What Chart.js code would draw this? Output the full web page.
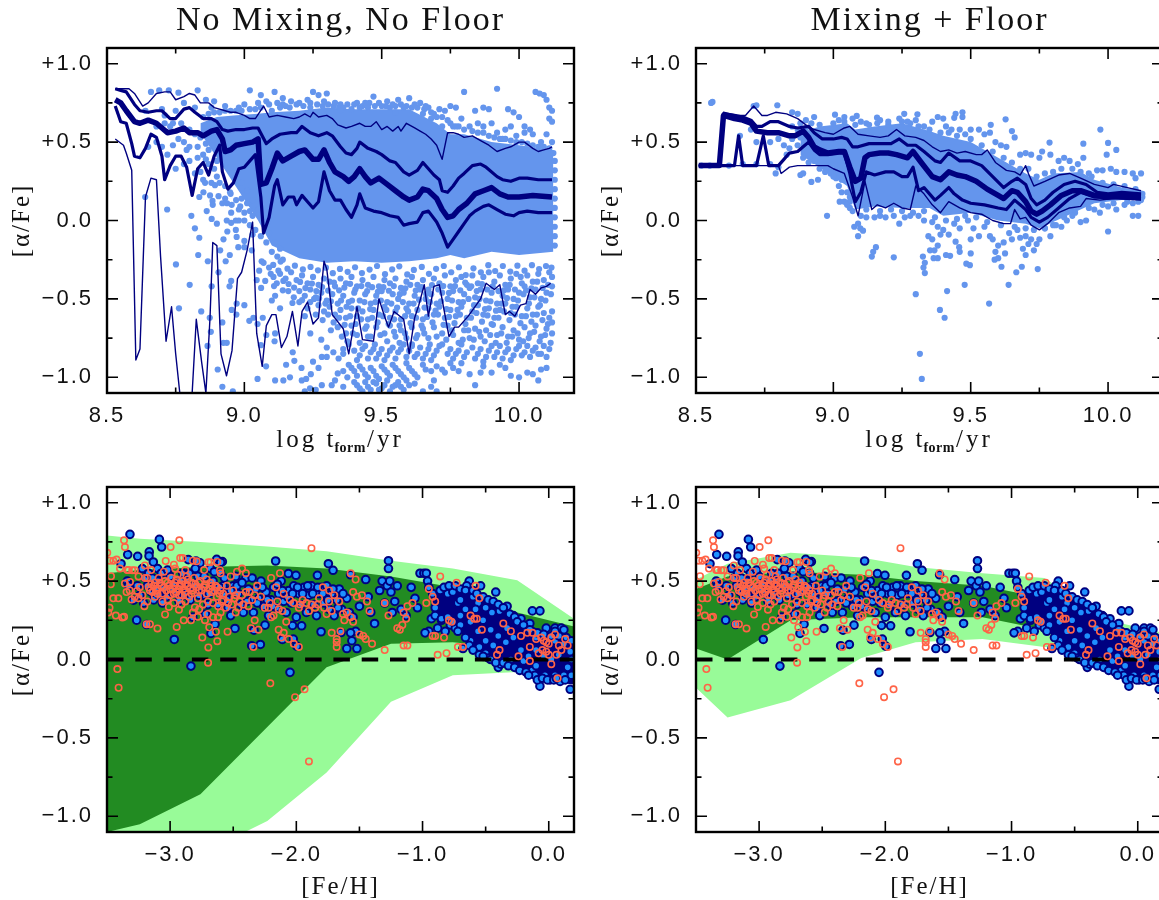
<!DOCTYPE html>
<html><head><meta charset="utf-8">
<script src="https://cdn.jsdelivr.net/npm/chart.js@4"></script>
<style>
html,body{margin:0;padding:0;background:#fff;width:1159px;height:900px;overflow:hidden}
canvas{position:absolute}
#wrap{position:absolute;left:0;top:0;width:1159px;height:900px;overflow:hidden}
</style></head><body><div id="wrap">
<canvas id="tl" width="590" height="461" style="left:0;top:0"></canvas>
<canvas id="tr" width="590" height="461" style="left:589px;top:0"></canvas>
<canvas id="bl" width="590" height="461" style="left:0;top:439px"></canvas>
<canvas id="br" width="590" height="461" style="left:589px;top:439px"></canvas>
</div>
<script>
const titles = ["No Mixing, No Floor", "Mixing + Floor"];
const yTicks = [-1, -0.5, 0, 0.5, 1];
const yMinor = [-0.75, -0.25, 0.25, 0.75];
const topXTicks = [8.5, 9, 9.5, 10];
const topXMinor = [8.75, 9.25, 9.75];
const botXTicks = [-3, -2, -1, 0];
const botXMid = [-2.5, -1.5, -0.5];

// ---- top-left: running percentile curves
const tlHi2 = [[8.53,.84],[8.55,.84],[8.58,.84],[8.6,.81],[8.63,.73],[8.65,.75],[8.68,.81],[8.71,.82],[8.73,.82],[8.75,.77],[8.78,.79],[8.8,.81],[8.82,.8],[8.84,.75],[8.87,.75],[8.89,.72],[8.91,.71],[8.93,.7],[8.95,.69],[8.97,.69],[9,.67],[9.02,.65],[9.04,.65],[9.07,.73],[9.09,.66],[9.12,.67],[9.15,.66],[9.18,.65],[9.2,.66],[9.22,.68],[9.24,.66],[9.25,.69],[9.27,.66],[9.3,.67],[9.32,.65],[9.34,.61],[9.37,.59],[9.39,.6],[9.42,.62],[9.44,.6],[9.46,.6],[9.48,.63],[9.5,.58],[9.52,.6],[9.54,.57],[9.56,.6],[9.57,.57],[9.59,.62],[9.62,.59],[9.64,.57],[9.66,.55],[9.68,.52],[9.7,.48],[9.72,.39],[9.74,.56],[9.76,.56],[9.78,.55],[9.8,.53],[9.83,.54],[9.86,.51],[9.89,.48],[9.92,.44],[9.95,.46],[9.97,.47],[10,.5],[10.02,.5],[10.05,.46],[10.07,.44],[10.09,.45],[10.11,.46],[10.12,.47]];
const tlHi1 = [[8.53,.84],[8.55,.83],[8.57,.82],[8.6,.74],[8.62,.7],[8.65,.69],[8.68,.7],[8.7,.7],[8.73,.65],[8.75,.65],[8.78,.71],[8.8,.72],[8.82,.69],[8.85,.65],[8.88,.65],[8.9,.63],[8.92,.58],[8.94,.57],[8.97,.58],[9,.58],[9.03,.59],[9.05,.59],[9.08,.49],[9.1,.52],[9.13,.55],[9.17,.56],[9.19,.56],[9.21,.6],[9.24,.56],[9.27,.54],[9.3,.56],[9.32,.54],[9.35,.47],[9.37,.43],[9.39,.42],[9.41,.46],[9.42,.5],[9.45,.46],[9.48,.44],[9.5,.42],[9.53,.38],[9.55,.37],[9.58,.31],[9.6,.29],[9.63,.32],[9.65,.37],[9.67,.33],[9.69,.29],[9.71,.26],[9.72,.19],[9.74,.18],[9.76,.22],[9.78,.27],[9.8,.3],[9.83,.35],[9.86,.36],[9.88,.34],[9.92,.28],[9.94,.26],[9.97,.25],[10,.27],[10.03,.27],[10.07,.26],[10.12,.26]];
const tlMed = [[8.53,.77],[8.55,.75],[8.57,.7],[8.6,.63],[8.62,.62],[8.65,.64],[8.68,.62],[8.7,.59],[8.72,.56],[8.75,.57],[8.78,.59],[8.8,.56],[8.83,.56],[8.85,.54],[8.88,.57],[8.9,.58],[8.92,.52],[8.93,.44],[8.95,.45],[8.97,.48],[9,.49],[9.03,.5],[9.05,.52],[9.06,.23],[9.08,.24],[9.1,.33],[9.12,.43],[9.14,.38],[9.17,.41],[9.2,.44],[9.22,.45],[9.25,.39],[9.27,.39],[9.29,.45],[9.31,.37],[9.33,.31],[9.36,.28],[9.38,.25],[9.4,.28],[9.42,.33],[9.44,.28],[9.46,.24],[9.49,.27],[9.52,.23],[9.55,.19],[9.58,.15],[9.6,.13],[9.63,.15],[9.65,.2],[9.67,.19],[9.7,.14],[9.72,.07],[9.74,.02],[9.76,.03],[9.78,.07],[9.81,.11],[9.84,.17],[9.87,.19],[9.9,.21],[9.93,.17],[9.96,.15],[10,.15],[10.05,.16],[10.12,.15]];
const tlLo1 = [[8.53,.73],[8.55,.63],[8.57,.62],[8.59,.49],[8.6,.41],[8.62,.4],[8.64,.46],[8.66,.55],[8.68,.53],[8.7,.41],[8.71,.26],[8.73,.35],[8.75,.41],[8.77,.41],[8.79,.34],[8.8,.25],[8.81,.16],[8.83,.33],[8.85,.37],[8.87,.29],[8.89,.41],[8.91,.48],[8.92,.31],[8.94,.2],[8.96,.24],[8.98,.33],[9,.34],[9.02,.38],[9.04,.42],[9.06,.15],[9.07,-.08],[9.09,.02],[9.11,.22],[9.12,.26],[9.14,.1],[9.16,.15],[9.18,.15],[9.19,.1],[9.21,.16],[9.23,.12],[9.25,.08],[9.27,.12],[9.29,.31],[9.31,.19],[9.33,.13],[9.35,.13],[9.37,.07],[9.39,.02],[9.41,.1],[9.42,.17],[9.44,.08],[9.47,.06],[9.5,.05],[9.53,.03],[9.56,.02],[9.58,-.03],[9.6,-.02],[9.63,-.01],[9.65,.05],[9.67,.06],[9.7,-.01],[9.72,-.08],[9.74,-.17],[9.76,-.12],[9.78,-.07],[9.8,-.02],[9.82,.03],[9.84,.06],[9.87,.09],[9.89,.1],[9.92,.07],[9.95,.04],[9.98,.03],[10,.05],[10.03,.06],[10.07,.05],[10.12,.05]];
const tlLo2 = [[8.53,.52],[8.56,.48],[8.57,.43],[8.59,.32],[8.605,-.89],[8.62,-.82],[8.64,.15],[8.66,.27],[8.68,.26],[8.695,-.23],[8.715,-.77],[8.735,-.55],[8.75,-.85],[8.765,-1.1],[8.79,-1.45],[8.81,-1.1],[8.825,-.63],[8.845,-.91],[8.86,-1.1],[8.875,-.62],[8.885,-.14],[8.9,-.16],[8.915,-.85],[8.935,-.99],[8.955,-.83],[8.975,-.37],[8.99,-.33],[9.01,-.19],[9.03,-.01],[9.045,-.72],[9.065,-.93],[9.08,-.67],[9.1,-.6],[9.115,-.6],[9.135,-.81],[9.155,-.74],[9.175,-.58],[9.195,-.8],[9.21,-.58],[9.23,-.52],[9.25,-.66],[9.27,-.62],[9.29,-.26],[9.3,-.31],[9.32,-.6],[9.36,-.69],[9.38,-.85],[9.41,-.55],[9.43,-.76],[9.47,-.77],[9.49,-.5],[9.51,-.61],[9.525,-.68],[9.545,-.58],[9.58,-.63],[9.6,-.85],[9.62,-.62],[9.635,-.54],[9.655,-.41],[9.67,-.61],[9.69,-.42],[9.71,-.41],[9.745,-.74],[9.765,-.68],[9.78,-.68],[9.815,-.61],[9.86,-.5],[9.88,-.4],[9.91,-.44],[9.93,-.41],[9.95,-.6],[9.965,-.58],[9.985,-.61],[10.005,-.54],[10.025,-.53],[10.04,-.44],[10.06,-.47],[10.08,-.43],[10.1,-.42],[10.115,-.4]];

// solid core of the top-left cloud
const tlCoreX = [8.84,8.9,8.96,9.05,9.1,9.2,9.3,9.4,9.5,9.6,9.7,9.75,9.8,9.9,10,10.125];
const tlCoreHi = [.62,.66,.67,.68,.69,.7,.72,.71,.71,.71,.62,.55,.55,.5,.48,.45];
const tlCoreLo = [.56,.4,.24,.0,-.16,-.24,-.27,-.26,-.27,-.26,-.24,-.22,-.24,-.2,-.22,-.2];

// individual stars around the top-left core
const tlDots = [[8.66,.82],[8.69,.83],[8.725,.83],[8.76,.815],[8.83,.83],[8.86,.77],[8.89,.76],[9.02,.83],[9.06,.8],[9.11,.82],[9.17,.76],[8.78,.75],[8.7,.71],[8.75,.7],[8.82,.72],[8.88,.72],[8.93,.73],[8.98,.72],[9.0,.74],[9.05,.75],[9.08,.76],[9.14,.78],[9.15,.73],[9.2,.75],[9.23,.77],[9.25,.82],[9.27,.8],[9.29,.76],[9.24,.72],[9.3,.81],[9.33,.75],[9.35,.74],[9.36,.72],[9.4,.74],[9.42,.72],[9.44,.75],[9.47,.79],[9.45,.72],[9.5,.73],[9.52,.76],[9.54,.74],[9.56,.77],[9.58,.72],[9.6,.78],[9.62,.74],[9.64,.75],[9.66,.73],[9.67,.72],[9.69,.68],[9.71,.71],[9.73,.7],[9.75,.73],[9.77,.72],[9.8,.82],[9.84,.7],[9.87,.72],[9.89,.71],[9.92,.84],[9.96,.71],[9.98,.69],[10.0,.66],[10.02,.6],[10.04,.58],[10.06,.82],[10.075,.81],[10.09,.8],[10.1,.77],[10.11,.72],[10.12,.7],[10.11,.65],[10.12,.63],[9.75,.62],[9.77,.6],[9.79,.65],[9.82,.6],[9.85,.62],[9.87,.6],[9.9,.62],[9.92,.56],[9.95,.58],[9.97,.6],[10.02,.56],[10.05,.55],[10.08,.5],[10.1,.55],[10.12,.5],[9.99,.54],[9.94,.52],[9.72,.6],[9.68,.65],[9.65,.68],[9.55,.69],[9.35,.7],[9.13,.72],[9.1,.7],
[8.64,.7],[8.68,.6],[8.71,.62],[8.73,.6],[8.76,.52],[8.74,.48],[8.72,.42],[8.7,.47],[8.68,.5],[8.65,.47],[8.78,.5],[8.8,.47],[8.79,.45],[8.83,.47],[8.85,.42],[8.87,.45],[8.86,.39],[8.83,.4],[8.8,.38],[8.75,.33],[8.78,.36],[8.84,.31],[8.82,.3],[8.87,.36],[8.89,.33],[8.9,.28],[8.88,.24],[8.85,.26],[8.91,.24],[8.93,.22],[8.95,.17],[8.93,.14],[8.92,.11],[8.97,.13],[8.99,.14],[9.01,.11],[9.02,.06],[9.03,.03],[9.0,.05],[8.98,.0],
[8.639,.15],[8.719,.07],[8.807,.03],[8.82,-.05],[8.836,-.11],[8.751,-.28],[8.801,-.41],[8.762,-.56],[8.832,-.22],[8.867,-.26],[8.843,-.58],[8.874,-.62],[8.878,-.71],[8.866,-.8],[8.903,-.95],[8.92,-1.06],[8.958,-1.09],[8.881,-.42],[8.906,-.33],[8.912,-.19],[8.932,-.26],[8.947,-.22],[8.924,-.12],[8.938,-.07],[8.9,-.02],[8.881,.01],[8.863,.06],[8.836,.15],[8.851,.18],[8.875,.16],[8.884,.125],[8.885,.1],[8.906,.155],[8.857,.24],[8.893,.225],[8.948,.18],[8.937,.11],[8.954,.1],[8.985,.09],[8.952,.05],[8.936,0],[8.952,-.015],[8.969,0],[9,.0],[8.969,-.06],[8.972,-.105],[9,-.13],[8.978,-.17],[9,-.17],[9.027,-.19],[9.054,-.32],[9.063,-.26],[9.061,-.43],[9.045,-.38],[9.076,-.385],[9.096,-.34],[9.106,-.36],[9.124,-.32],[9.118,-.4],[9.14,-.445],[9.112,-.48],[9.1,-.51],[9.13,-.56],[9.2,-.52],[9.23,-.56],[9.254,-.5],[8.946,-.42],[8.952,-.385],[8.954,-.57],[8.972,-.53],[9,-.54],[8.971,-.6],[9.018,-.64],[9.033,-.62],[9.067,-.62],[9.048,-.66],[8.92,-.65],[8.924,-.78],[8.936,-.78],[9.06,-.795],[9.08,-.73],[9.079,-.93],[9.048,-1.01],[9.112,-1.02],[9.142,-1.02],[9.112,-.72],[9.11,-.77],[9.152,-.92],[9.176,-.84],[9.182,-.895],[9.208,-.94],[9.166,-1],[9.209,-1.02],[9.225,-1.01],[9.242,-.98],[9.239,-1.07],[9.27,-.94],[9.282,-.87],[9.25,-.9],[9.3,-.87],[9.324,-.84],[9.343,-.88],[9.36,-.85],[9.282,-1.05],[9.318,-1.05],[9.34,-.975],[9.36,-.96],[9.375,-1.0]];
const tlDotsLow = [[9.09,-.3],[9.13,-.34],[9.15,-.37],[9.17,-.33],[9.19,-.38],[9.21,-.35],[9.23,-.4],[9.25,-.36],[9.27,-.41],[9.29,-.37],[9.31,-.39],[9.33,-.42],[9.35,-.37],[9.37,-.4],[9.39,-.36],[9.41,-.42],[9.43,-.38],[9.45,-.41],[9.47,-.36],[9.49,-.42],[9.51,-.38],[9.53,-.4],[9.55,-.37],[9.57,-.43],[9.59,-.39],[9.61,-.36],[9.63,-.41],[9.65,-.38],[9.67,-.44],[9.69,-.37],[9.71,-.4],[9.73,-.35],[9.75,-.42],[9.77,-.38],[9.79,-.36],[9.81,-.41],[9.83,-.35],[9.85,-.4],[9.87,-.36],[9.89,-.33],[9.91,-.39],[9.93,-.35],[9.95,-.41],[9.97,-.37],[9.99,-.34],[10.01,-.4],[10.03,-.35],[10.05,-.39],[10.07,-.34],[10.09,-.38],[10.11,-.33],[10.12,-.36],
[9.16,-.45],[9.18,-.49],[9.2,-.45],[9.22,-.48],[9.24,-.44],[9.26,-.49],[9.28,-.46],[9.3,-.51],[9.32,-.47],[9.34,-.53],[9.36,-.48],[9.38,-.52],[9.4,-.46],[9.42,-.51],[9.44,-.47],[9.46,-.53],[9.48,-.48],[9.5,-.45],[9.52,-.52],[9.54,-.47],[9.56,-.5],[9.58,-.46],[9.6,-.53],[9.62,-.48],[9.64,-.44],[9.66,-.5],[9.68,-.47],[9.7,-.53],[9.72,-.46],[9.74,-.5],[9.76,-.45],[9.78,-.52],[9.8,-.47],[9.82,-.43],[9.84,-.49],[9.86,-.44],[9.88,-.51],[9.9,-.46],[9.92,-.53],[9.94,-.48],[9.96,-.44],[9.98,-.5],[10,-.46],[10.02,-.42],[10.04,-.49],[10.06,-.44],[10.08,-.5],[10.1,-.46],[10.12,-.42],
[9.27,-.54],[9.29,-.58],[9.31,-.55],[9.33,-.6],[9.35,-.57],[9.37,-.62],[9.39,-.56],[9.41,-.61],[9.43,-.58],[9.45,-.63],[9.47,-.57],[9.49,-.6],[9.51,-.55],[9.53,-.62],[9.55,-.58],[9.57,-.63],[9.59,-.56],[9.61,-.61],[9.63,-.57],[9.65,-.63],[9.67,-.56],[9.69,-.6],[9.71,-.55],[9.73,-.62],[9.75,-.57],[9.77,-.61],[9.79,-.55],[9.81,-.62],[9.83,-.58],[9.85,-.54],[9.87,-.6],[9.89,-.56],[9.91,-.62],[9.93,-.57],[9.95,-.53],[9.97,-.59],[9.99,-.55],[10.01,-.61],[10.03,-.56],[10.05,-.6],[10.07,-.55],[10.09,-.59],[10.11,-.62],[10.12,-.58],
[9.34,-.68],[9.37,-.72],[9.39,-.67],[9.41,-.73],[9.44,-.69],[9.46,-.74],[9.48,-.68],[9.51,-.72],[9.53,-.67],[9.55,-.74],[9.57,-.7],[9.59,-.75],[9.61,-.68],[9.63,-.73],[9.65,-.69],[9.67,-.75],[9.69,-.68],[9.72,-.72],[9.74,-.67],[9.76,-.73],[9.78,-.78],[9.8,-.7],[9.82,-.75],[9.84,-.69],[9.86,-.74],[9.88,-.7],[9.9,-.66],[9.92,-.73],[9.94,-.68],[9.96,-.74],[9.98,-.7],[10,-.76],[10.02,-.68],[10.04,-.72],[10.06,-.67],[10.08,-.74],[10.1,-.69],[10.12,-.65],[10.12,-.72],
[9.38,-.79],[9.4,-.83],[9.42,-.86],[9.44,-.8],[9.46,-.84],[9.48,-.88],[9.5,-.82],[9.52,-.86],[9.54,-.81],[9.56,-.84],[9.58,-.79],[9.6,-.83],[9.62,-.87],[9.64,-.81],[9.66,-.85],[9.68,-.89],[9.7,-.83],[9.72,-.79],[9.74,-.85],[9.76,-.88],[9.78,-.83],[9.8,-.87],[9.83,-.81],[9.85,-.85],[9.87,-.9],[9.89,-.83],[9.91,-.87],[9.93,-.8],[9.95,-.84],[9.97,-.89],[9.99,-.82],[10.01,-.86],[10.03,-.8],[10.05,-.83],[10.07,-.85],[10.09,-.8],[10.11,-.82],
[9.38,-.92],[9.4,-.96],[9.42,-.93],[9.44,-.98],[9.46,-.94],[9.48,-.99],[9.5,-.93],[9.52,-.97],[9.54,-.92],[9.56,-.96],[9.58,-1.0],[9.6,-.94],[9.62,-.98],[9.65,-.92],[9.68,-.96],[9.7,-.93],[9.73,-.97],[9.76,-.94],[9.79,-.91],[9.82,-.98],[9.84,-1.05],[9.87,-.93],[9.9,-.97],[9.93,-.92],[9.97,-.99],[10,-1.0],[10.03,-.97],[10.07,-1.02],[10.1,-.94],
[9.4,-1.03],[9.42,-1.07],[9.44,-1.03],[9.46,-1.08],[9.48,-1.04],[9.5,-1.07],[9.52,-1.02],[9.54,-1.06],[9.56,-1.03],[9.58,-1.08],[9.6,-1.05],[9.65,-1.09],[9.7,-1.09],[9.33,-1.02],[9.36,-1.06],[9.26,-1.08],[9.22,-1.09]];
const tlDotsFill = [[9.07,-.27],[9.105,-.283],[9.132,-.262],[9.157,-.307],[9.184,-.288],[9.213,-.312],[9.241,-.296],[9.268,-.318],[9.297,-.301],[9.322,-.336],[9.348,-.309],[9.376,-.327],[9.403,-.298],[9.428,-.335],[9.456,-.313],[9.483,-.29],[9.512,-.342],[9.538,-.312],[9.564,-.292],[9.593,-.344],[9.617,-.315],[9.646,-.296],[9.672,-.34],[9.698,-.308],[9.726,-.29],[9.753,-.33],[9.781,-.298],[9.806,-.348],[9.834,-.305],[9.861,-.33],[9.888,-.285],[9.913,-.322],[9.941,-.29],[9.968,-.326],[9.994,-.288],[10.02,-.32],[10.047,-.285],[10.073,-.31],[10.098,-.29],[10.118,-.3],
[9.108,-.418],[9.142,-.385],[9.161,-.405],[9.181,-.428],[9.203,-.392],[9.222,-.431],[9.246,-.402],[9.262,-.45],[9.283,-.424],[9.305,-.447],[9.326,-.396],[9.345,-.445],[9.364,-.428],[9.385,-.404],[9.404,-.44],[9.426,-.418],[9.447,-.45],[9.465,-.425],[9.486,-.455],[9.506,-.425],[9.526,-.448],[9.544,-.418],[9.566,-.47],[9.586,-.432],[9.604,-.41],[9.624,-.447],[9.645,-.425],[9.662,-.468],[9.683,-.412],[9.706,-.44],[9.724,-.418],[9.745,-.462],[9.767,-.418],[9.786,-.445],[9.804,-.396],[9.826,-.42],[9.846,-.45],[9.865,-.405],[9.884,-.44],[9.904,-.42],[9.925,-.45],[9.945,-.445],[9.966,-.41],[9.985,-.44],[10.006,-.36],[10.026,-.445],[10.045,-.432],[10.066,-.39],[10.086,-.43],[10.106,-.41],
[9.175,-.526],[9.21,-.508],[9.24,-.52],[9.272,-.497],[9.295,-.53],[9.315,-.515],[9.352,-.51],[9.372,-.55],[9.392,-.51],[9.414,-.56],[9.437,-.52],[9.458,-.565],[9.477,-.52],[9.497,-.51],[9.517,-.57],[9.535,-.53],[9.556,-.555],[9.577,-.52],[9.596,-.58],[9.616,-.53],[9.636,-.505],[9.656,-.555],[9.676,-.52],[9.696,-.575],[9.716,-.515],[9.736,-.565],[9.756,-.51],[9.776,-.57],[9.796,-.52],[9.816,-.5],[9.836,-.54],[9.856,-.5],[9.876,-.565],[9.896,-.515],[9.916,-.575],[9.936,-.53],[9.956,-.495],[9.976,-.55],[9.996,-.51],[10.016,-.47],[10.036,-.53],[10.056,-.49],[10.076,-.54],[10.096,-.51],[10.116,-.47],
[9.22,-.61],[9.26,-.6],[9.285,-.635],[9.305,-.6],[9.325,-.65],[9.345,-.62],[9.365,-.665],[9.385,-.61],[9.405,-.66],[9.425,-.63],[9.445,-.675],[9.465,-.62],[9.485,-.65],[9.505,-.61],[9.525,-.66],[9.545,-.63],[9.565,-.67],[9.585,-.61],[9.605,-.655],[9.625,-.62],[9.645,-.67],[9.665,-.615],[9.685,-.65],[9.705,-.6],[9.725,-.665],[9.745,-.615],[9.765,-.655],[9.785,-.6],[9.805,-.66],[9.825,-.62],[9.845,-.59],[9.865,-.645],[9.885,-.605],[9.905,-.665],[9.925,-.62],[9.945,-.58],[9.965,-.635],[9.985,-.6],[10.005,-.655],[10.025,-.61],[10.045,-.645],[10.065,-.6],[10.085,-.635],[10.105,-.66],
[9.24,-.72],[9.28,-.76],[9.315,-.7],[9.355,-.74],[9.375,-.77],[9.395,-.72],[9.42,-.78],[9.45,-.74],[9.475,-.79],[9.495,-.73],[9.52,-.77],[9.545,-.71],[9.565,-.78],[9.585,-.72],[9.61,-.79],[9.625,-.75],[9.655,-.72],[9.675,-.79],[9.7,-.74],[9.735,-.76],[9.755,-.7],[9.795,-.76],[9.815,-.7],[9.835,-.76],[9.855,-.71],[9.875,-.77],[9.895,-.73],[9.915,-.78],[9.935,-.72],[9.955,-.78],[9.975,-.74],[9.995,-.72],[10.015,-.77],[10.035,-.75],[10.055,-.71],[10.075,-.77],[10.095,-.73],[10.115,-.78],
[9.3,-.81],[9.36,-.82],[9.41,-.89],[9.43,-.82],[9.45,-.88],[9.47,-.82],[9.49,-.85],[9.51,-.89],[9.53,-.83],[9.55,-.88],[9.57,-.82],[9.59,-.87],[9.61,-.8],[9.63,-.85],[9.65,-.88],[9.67,-.82],[9.69,-.86],[9.71,-.8],[9.75,-.82],[9.77,-.85],[9.79,-.79],[9.81,-.84],[9.84,-.88],[9.86,-.82],[9.88,-.87],[9.9,-.8],[9.92,-.84],[9.94,-.88],[9.96,-.82],[9.98,-.86],[10,-.8],[10.02,-.84],[10.04,-.87],[10.06,-.81],[10.08,-.85],[10.1,-.87],
[9.39,-.94],[9.41,-.99],[9.43,-.95],[9.45,-1.0],[9.47,-.96],[9.49,-1.01],[9.51,-.95],[9.53,-.99],[9.55,-.94],[9.57,-.98],[9.59,-.91],[9.61,-.96],[9.63,-1.0],[9.66,-.95],[9.69,-1.02],[9.72,-.95],[9.75,-.91],[9.78,-.96],[9.86,-.97],[9.95,-.94],[10.08,-.95],[10.05,-.98],
[9.41,-1.05],[9.43,-1.09],[9.45,-1.06],[9.47,-1.03],[9.49,-1.08],[9.51,-1.05],[9.53,-1.09],[9.55,-1.05],[9.57,-1.06],[9.59,-1.02],[9.62,-1.04],[9.68,-1.06]];
const tlDotsEdge = [[9.06,.72],[9.09,.74],[9.12,.75],[9.14,.74],[9.165,.72],[9.19,.74],[9.215,.73],[9.24,.75],[9.265,.74],[9.285,.73],[9.305,.74],[9.325,.73],[9.345,.72],[9.375,.74],[9.39,.71],[9.41,.75],[9.43,.73],[9.455,.75],[9.475,.73],[9.49,.75],[9.515,.73],[9.53,.72],[9.55,.73],[9.57,.74],[9.59,.73],[9.61,.72],[9.63,.72],[9.655,.71],[9.68,.69],[9.7,.66],[9.72,.66],[9.74,.64],[9.76,.6],[9.78,.6],[9.8,.58],[9.83,.57],[9.85,.56],[9.87,.56],[9.89,.54],[9.91,.53],[9.93,.52],[9.95,.52],[9.97,.51],[9.99,.5],[10.01,.5],[10.03,.49],[10.05,.48],[10.07,.47],[10.09,.47],[10.11,.46],[10.125,.43],[10.13,.38],[10.13,.32],[10.13,.26],[10.13,.2],[10.13,.14],[10.13,.08],[10.13,.02],[10.13,-.04],[10.13,-.1],[10.13,-.16],[8.85,.66],[8.87,.68],[8.89,.69],[8.91,.69],[8.93,.7],[8.95,.7],[8.97,.7],[8.99,.7],[9.02,.71],[9.04,.71],
[8.87,.53],[8.89,.48],[8.91,.44],[8.93,.4],[8.95,.34],[8.97,.29],[8.99,.24],[9.01,.19],[9.03,.13],[9.05,.07],[9.07,-.01],[9.09,-.08],[9.11,-.14],[9.13,-.18],[9.04,-.06],[9.06,-.1],[9.08,-.14],[9.1,-.2],[9.12,-.23],[9.14,-.25],[9.03,-.09],[9.02,-.03],[8.98,.07],[8.9,.38],[8.86,.49],[8.84,.53],[8.82,.55],[8.8,.58],[8.77,.62],[8.74,.62],[8.71,.67]];

// ---- top-right curves
const trHi2 = [[8.51,.35],[8.585,.35],[8.6,.69],[8.65,.67],[8.68,.67],[8.71,.73],[8.74,.67],[8.76,.67],[8.79,.69],[8.83,.68],[8.87,.65],[8.9,.61],[8.93,.58],[8.97,.56],[9,.55],[9.04,.59],[9.06,.6],[9.09,.55],[9.13,.54],[9.17,.53],[9.2,.54],[9.23,.58],[9.26,.54],[9.3,.53],[9.33,.51],[9.36,.47],[9.39,.44],[9.42,.45],[9.45,.43],[9.48,.44],[9.52,.42],[9.54,.42],[9.56,.45],[9.59,.37],[9.63,.32],[9.66,.31],[9.68,.29],[9.7,.35],[9.71,.3],[9.73,.22],[9.77,.25],[9.82,.29],[9.86,.3],[9.9,.27],[9.95,.23],[10,.21],[10.02,.23],[10.07,.21],[10.12,.19]];
const trHi1 = [[8.51,.35],[8.585,.35],[8.6,.68],[8.64,.67],[8.67,.66],[8.7,.64],[8.72,.6],[8.74,.6],[8.77,.63],[8.8,.63],[8.84,.6],[8.87,.59],[8.91,.6],[8.93,.56],[8.96,.52],[9,.52],[9.03,.53],[9.05,.52],[9.07,.47],[9.09,.47],[9.13,.49],[9.17,.49],[9.21,.49],[9.24,.52],[9.27,.48],[9.3,.48],[9.33,.44],[9.37,.38],[9.39,.37],[9.42,.43],[9.46,.38],[9.5,.38],[9.54,.35],[9.58,.28],[9.62,.21],[9.65,.25],[9.67,.27],[9.7,.23],[9.72,.14],[9.74,.1],[9.77,.13],[9.8,.18],[9.84,.23],[9.88,.25],[9.92,.23],[9.96,.18],[10,.17],[10.05,.18],[10.12,.17]];
const trMed = [[8.51,.35],[8.585,.35],[8.6,.67],[8.64,.65],[8.67,.64],[8.7,.62],[8.72,.57],[8.76,.56],[8.8,.56],[8.84,.54],[8.86,.54],[8.89,.57],[8.91,.53],[8.93,.47],[8.95,.45],[8.98,.43],[9.02,.44],[9.04,.44],[9.06,.34],[9.08,.25],[9.1,.27],[9.115,.4],[9.13,.42],[9.17,.43],[9.2,.43],[9.23,.42],[9.27,.4],[9.29,.44],[9.32,.37],[9.36,.28],[9.39,.26],[9.42,.31],[9.45,.29],[9.48,.28],[9.52,.25],[9.56,.2],[9.6,.16],[9.62,.14],[9.65,.19],[9.67,.18],[9.7,.12],[9.72,.06],[9.74,.04],[9.76,.06],[9.79,.1],[9.83,.16],[9.87,.19],[9.9,.19],[9.95,.16],[10,.15],[10.05,.16],[10.12,.155]];
const trLo1 = [[8.51,.35],[8.64,.35],[8.655,.54],[8.67,.35],[8.72,.35],[8.745,.54],[8.765,.35],[8.8,.35],[8.82,.39],[8.84,.43],[8.87,.44],[8.89,.47],[8.91,.5],[8.93,.45],[8.95,.42],[8.98,.42],[9.02,.43],[9.04,.43],[9.06,.3],[9.08,.12],[9.1,.18],[9.12,.31],[9.15,.29],[9.19,.31],[9.22,.31],[9.25,.28],[9.27,.28],[9.29,.34],[9.31,.19],[9.33,.21],[9.35,.17],[9.37,.13],[9.39,.16],[9.42,.21],[9.44,.17],[9.47,.13],[9.5,.11],[9.55,.1],[9.6,.08],[9.63,.07],[9.66,.13],[9.68,.1],[9.7,.07],[9.72,.02],[9.75,-.01],[9.78,.02],[9.82,.08],[9.86,.14],[9.9,.18],[9.95,.15],[10.12,.14]];
const trLo2 = [[8.51,.35],[8.8,.35],[8.81,.3],[8.84,.34],[8.87,.35],[8.95,.35],[8.98,.35],[9,.33],[9.04,.3],[9.07,.15],[9.09,.03],[9.115,.25],[9.14,.07],[9.16,.1],[9.19,.08],[9.22,.11],[9.25,.08],[9.28,.07],[9.3,.22],[9.33,.17],[9.36,.1],[9.39,.05],[9.42,.12],[9.46,.08],[9.5,.05],[9.54,.04],[9.58,0],[9.62,-.02],[9.645,-.02],[9.66,.07],[9.68,.01],[9.7,.02],[9.72,-.03],[9.75,-.06],[9.78,-.02],[9.82,.05],[9.86,.08],[9.9,.09],[9.92,.14],[9.97,.13],[10.02,.14],[10.12,.13]];
const trCoreX = [8.88,8.95,9.05,9.08,9.15,9.25,9.35,9.4,9.5,9.6,9.7,9.75,9.8,9.9,9.95,10.05,10.125];
const trCoreHi = [.56,.6,.62,.58,.6,.62,.57,.54,.5,.4,.3,.26,.3,.31,.26,.21,.19];
const trCoreLo = [.42,.34,.22,.07,.09,.08,.08,.03,.05,.0,-.02,-.05,-.01,.07,.11,.13,.13];
const trDots = [[8.56,.756],[8.555,.75],[8.977,.03],[9.023,.12],[9.06,.08],[9.14,-.23],[9.155,-.17],[9.145,-.2],[9.22,-.235],[9.3,-.47],[9.388,-.57],[9.405,-.62],[9.315,-.85],[9.322,-1.01],[9.414,-.45],[9.478,-.41],[9.567,-.53],[9.638,-.41],[9.744,-.31],[9.666,-.33],[9.686,-.295],[9.612,-.295],[9.587,-.25],[9.445,-.135],[9.458,-.17],[9.46,-.2],[9.484,-.275],[9.497,-.285],[9.5,-.21],[9.326,-.23],[9.333,-.27],[9.333,-.335],[9.328,-.3],[9.38,-.24],[9.365,-.24],[9.352,-.19],[9.368,-.19],[9.38,-.16],[9.41,-.22],[9.425,-.225],[9.346,-.1],[9.09,-.1],[9.076,-.04],[9.098,-.05],[9.108,-.065],[10,-.07],[9.972,.58],[10,.495],[10.03,.45],[9.995,.42],[9.91,.49],[9.787,.497],[9.627,.645],[9.573,.61],[9.47,.69],[9.445,.68],[9.47,.66],[9.44,.655],[9.258,.68],[9.306,.677],[9.159,.656],[9.085,.667],[9.006,.675],[8.93,.66],[8.85,.69],[8.87,.68],[8.796,.735],[8.72,.735],[8.71,.73],[8.79,.3],[8.92,.246],[8.944,.26],[8.88,.29],[8.89,.3],[10.12,.3],[10.11,.03],[10.09,.03],
[8.7,.58],[8.66,.54],[8.72,.5],[8.77,.5],[8.8,.52],[8.82,.48],[8.83,.42],[8.84,.46],[8.87,.58],[8.9,.64],[8.92,.62],[8.88,.62],[9.02,.64],[9.04,.66],[9.07,.65],[9.1,.63],[9.13,.61],[9.17,.64],[9.2,.63],[9.24,.65],[9.27,.63],[9.3,.64],[9.33,.6],[9.36,.63],[9.38,.66],[9.4,.65],[9.41,.6],[9.43,.58],[9.46,.58],[9.48,.55],[9.5,.58],[9.53,.58],[9.55,.55],[9.57,.56],[9.59,.5],[9.61,.48],[9.63,.47],[9.65,.57],[9.66,.53],[9.68,.42],[9.7,.43],[9.72,.42],[9.75,.4],[9.76,.44],[9.79,.42],[9.82,.38],[9.84,.4],[9.86,.38],[9.89,.36],[9.91,.4],[9.93,.3],[9.96,.32],[9.98,.32],[10.01,.33],[10.03,.31],[10.06,.31],[10.09,.3],[10.1,.27],
[9.0,.28],[9.02,.22],[9.03,.18],[9.04,.12],[9.05,.1],[9.06,.15],[9.09,-.02],[9.1,.03],[9.12,.02],[9.15,.02],[9.17,.03],[9.19,.02],[9.22,.03],[9.24,-.02],[9.26,.02],[9.28,.03],[9.31,.03],[9.33,.0],[9.36,-.01],[9.38,-.04],[9.4,-.06],[9.42,-.09],[9.44,-.02],[9.46,-.05],[9.49,.0],[9.51,-.05],[9.53,-.1],[9.55,-.04],[9.57,-.1],[9.58,-.12],[9.6,-.16],[9.62,-.14],[9.64,-.08],[9.65,-.12],[9.67,-.06],[9.68,-.11],[9.69,-.18],[9.7,-.1],[9.71,-.15],[9.72,-.12],[9.73,-.19],[9.74,-.15],[9.75,-.12],[9.77,-.05],[9.79,-.1],[9.81,-.03],[9.83,-.04],[9.85,0],[9.87,.03],[9.9,-.01],[9.92,.0],[9.95,.07],[9.97,.05],[10.0,.09],[10.03,.07],[10.06,.1],[10.09,.11],[9.36,-.12],[9.39,-.09],[9.5,-.12],[9.59,-.2],[9.6,-.24],[9.625,-.21],[9.7,-.22]];
const trDotsEdge = [[8.85,.52],[8.87,.48],[8.88,.53],[8.89,.4],[8.91,.37],[8.93,.38],[8.95,.33],[8.97,.31],[8.99,.3],[9.01,.27],[9.03,.26],[9.05,.18],[9.06,.12],[9.07,.06],[9.12,.07],[9.17,.06],[9.21,.07],[9.25,.06],[9.29,.05],[9.33,.06],[9.37,.02],[9.41,.0],[9.45,.01],[9.48,.03],[9.52,.02],[9.56,-.01],[9.61,-.03],[9.66,-.04],[9.7,-.05],[9.73,-.06],[9.77,-.05],[9.8,-.03],[9.84,.02],[9.88,.05],[9.93,.08],[9.98,.1],[10.02,.11],[10.07,.12],[10.11,.12],[8.85,.6],[8.9,.59],[8.95,.61],[9,.62],[9.04,.63],[9.08,.61],[9.12,.62],[9.16,.62],[9.2,.61],[9.25,.63],[9.28,.62],[9.31,.6],[9.35,.58],[9.39,.56],[9.42,.56],[9.45,.54],[9.5,.52],[9.54,.48],[9.58,.44],[9.62,.4],[9.65,.37],[9.68,.33],[9.71,.33],[9.74,.28],[9.77,.3],[9.8,.31],[9.83,.33],[9.87,.33],[9.9,.31],[9.94,.28],[9.98,.24],[10.02,.23],[10.06,.22],[10.1,.2],[10.125,.17],[10.125,.15],[10.12,.13],[8.52,.35],[8.55,.35],[8.62,.35],[8.67,.36],[8.72,.36],[8.77,.36],[8.8,.34]];

// ---- bottom panels: shaded bands
const blBandX = [-3.5,-3.24,-2.76,-2.23,-1.76,-1.25,-.76,-.25,.2];
const blLightHi = [.79,.77,.75,.72,.69,.63,.58,.505,.26];
const blLightLo = [-1.4,-1.3,-1.24,-1.03,-.72,-.27,-.1,-.08,-.05];
const blDarkHi = [.55,.57,.59,.6,.58,.53,.46,.3,.21];
const blDarkLo = [-1.1,-1.05,-.86,-.43,-.05,.1,.11,.07,.03];
const brBandX = [-3.5,-3.25,-2.75,-2.19,-1.76,-1.23,-.74,-.24,.2];
const brLightHi = [.51,.61,.68,.65,.59,.55,.52,.25,.17];
const brLightLo = [-.18,-.37,-.26,.01,.11,.13,.08,.06,.05];
const brDarkHi = [.45,.53,.56,.54,.5,.47,.39,.22,.13];
const brDarkLo = [.07,0,.25,.27,.27,.27,.19,.12,.09];
const zeroX = [-3.5,.2];
const zeroY = [0,0];

// dense part of the blue stars
const blobX = [-.93,-.756,-.597,-.413,-.228,-.016,.2];
const blobHi = [.42,.46,.43,.37,.26,.16,.14];
const blobLo = [.31,.23,.07,-.01,-.07,-.14,-.16];

const blueStars = [[-3.318,.798],[-3.085,.766],[-3.067,.717],[-3.336,.669],[-3.257,.658],[-3.165,.686],[-3.167,.66],[-3.389,.611],[-3.133,.622],[-3.099,.58],[-2.856,.637],[-2.631,.639],[-2.586,.624],[-2.6,.62],[-2.763,.616],[-2.795,.628],[-2.164,.628],[-2.063,.548],[-2.003,.537],[-1.833,.537],[-1.746,.611],[-1.709,.569],[-3.29,.378],[-3.265,.251],[-3.186,.223],[-2.967,.128],[-2.835,-.042],[-2.05,-.082],[-2.354,.088],[-2.285,.096],[-2.11,.128],[-2.024,.13],[-1.997,.085],[-1.804,.177],[-1.646,.172],[-1.958,.215],[-2.03,.217],[-2.248,.219],[-2.335,.187],[-2.486,.198],[-2.676,.166],[-2.644,.225],
[-3.34,.5],[-3.33,.47],[-3.22,.58],[-3.2,.52],[-3.18,.47],[-3.15,.43],[-3.13,.38],[-3.1,.5],[-3.07,.55],[-3.05,.45],[-3.03,.4],[-3,.53],[-2.98,.48],[-2.95,.42],[-2.93,.37],[-2.9,.55],[-2.88,.5],[-2.86,.44],[-2.84,.38],[-2.82,.27],[-2.8,.58],[-2.78,.53],[-2.76,.46],[-2.74,.41],[-2.72,.29],[-2.7,.35],[-2.68,.58],[-2.66,.5],[-2.64,.44],[-2.62,.35],[-2.6,.55],[-2.58,.47],[-2.56,.41],[-2.54,.33],[-2.52,.28],[-2.5,.47],[-2.48,.53],[-2.46,.42],[-2.44,.35],[-2.42,.3],[-2.4,.52],[-2.38,.45],[-2.36,.38],[-2.34,.3],[-2.32,.45],[-2.3,.39],[-2.28,.5],[-2.26,.34],[-2.24,.43],[-2.22,.28],[-2.2,.38],[-2.18,.46],[-2.16,.33],[-2.14,.42],[-2.12,.5],[-2.1,.37],[-2.08,.3],[-2.06,.44],[-2.04,.36],[-2.02,.47],[-2,.27],[-1.98,.42],[-1.96,.35],[-1.94,.46],[-1.92,.3],[-1.9,.41],[-1.88,.47],[-1.86,.35],[-1.84,.28],[-1.82,.42],[-1.8,.46],[-1.78,.36],[-1.76,.47],[-1.74,.32],[-1.72,.42],[-1.7,.28],[-1.68,.38],[-1.66,.45],[-1.64,.32],[-1.6,.39],[-1.58,.3],[-1.57,.54],[-1.56,.12],[-1.55,.27],[-1.53,.18],[-1.52,.07],[-1.5,.34],[-1.6,.07],[-1.57,.17],[-1.45,.51],[-1.43,.4],[-1.41,.3],[-1.38,.23],[-1.34,.44],[-1.32,.5],[-1.3,.36],[-1.28,.47],[-1.27,.63],[-1.27,.58],[-1.26,.5],[-1.25,.43],[-1.24,.3],[-1.22,.37],[-1.2,.47],[-1.17,.32],[-1.13,.28],[-1.09,.46],[-1.06,.39],[-1.04,.33],[-1.02,.55],[-.99,.55],[-.97,.55],[-.96,.5],[-.95,.46],[-.92,.42],[-.95,.18],[-.98,.17],[-.93,.26],[-.88,.2],[-.82,.18],[-.78,.22],[-.74,.2],[-.7,.22],[-.68,.07],[-.9,.33],[-.85,.25],[-.63,.5],[-.65,.47],[-.54,.47],[-.42,.43],[-.39,.31],[-.33,.34],[-.13,.31],[-.07,.31],[-.02,.2],[.05,.2],[.1,.2],[.05,.18],[.12,.19],[-.07,-.17],[-.4,-.05],[-.38,-.03],[-.5,.04],[-.48,.01],[-.13,-.07],[-.11,-.1],[.01,-.13],[.09,-.14],[.17,-.19],[.15,-.12],[-.45,.3],[-.33,.2],[-.28,.28],[-.22,.26],[-.18,.2],[-.15,.23],[-.1,.14],[-.05,.15],[0,.13],[.05,.12],[.12,.1],[.17,.05],[.18,0],[.15,-.05],[.12,-.1],[.05,-.1],[-.03,-.1],[-.1,-.04],[-.2,-.01],[-.3,0],[-.55,.08],[-.62,.12],[-.7,.28],[-.8,.42],[-.76,.43],[-.6,.4],[-.56,.36],[-.5,.33],[-.72,.36],
[-.86,.44],[-.83,.46],[-.79,.47],[-.74,.47],[-.7,.45],[-.66,.44],[-.6,.44],[-.57,.42],[-.52,.4],[-.48,.38],[-.44,.37],[-.4,.35],[-.36,.33],[-.31,.29],[-.27,.27],[-.25,.24],[-.2,.22],[-.15,.19],[-.09,.17],[-.04,.16],[.02,.15],[.08,.15],[.14,.14],[.18,.12],[-.9,.28],[-.85,.26],[-.8,.27],[-.76,.24],[-.72,.18],[-.66,.14],[-.63,.09],[-.6,.06],[-.55,.03],[-.52,.02],[-.46,.0],[-.42,-.02],[-.36,-.02],[-.32,-.04],[-.27,-.05],[-.23,-.07],[-.18,-.08],[-.16,-.1],[-.09,-.13],[-.05,-.12],[-.01,-.13],[.04,-.13],[.06,-.12],[.13,-.13],[.18,-.1],[-.58,.32],[-.52,.25],[-.46,.19],[-.4,.15],[-.34,.11],[-.28,.14],[-.22,.06],[-.16,.02],[-.1,.06],[-.04,.02],[.02,.0],[.08,.03],[-.7,.38],[-.66,.32],[-.62,.24],[-.56,.18],[-.5,.12],[-.44,.09],
[-3.26,.47],[-3.24,.41],[-3.21,.36],[-3.17,.55],[-3.14,.52],[-3.12,.45],[-3.09,.41],[-3.06,.36],[-3.02,.57],[-2.97,.44],[-2.92,.5],[-2.89,.41],[-2.85,.55],[-2.81,.47],[-2.77,.41],[-2.73,.53],[-2.69,.42],[-2.65,.56],[-2.61,.46],[-2.57,.52],[-2.55,.38],[-2.52,.44],[-2.47,.47],[-2.43,.49],[-2.39,.37],[-2.35,.52],[-2.31,.36],[-2.27,.46],[-2.23,.38],[-2.19,.34],[-2.15,.48],[-2.11,.44],[-2.07,.4],[-2.03,.42],[-1.99,.46],[-1.95,.42],[-1.91,.47],[-1.87,.42],[-1.83,.46],[-1.79,.42],[-1.75,.38],[-1.71,.45],[-1.67,.33],[-1.63,.42]];

const orangeStars = [[-3.418,-.061],[-3.408,-.18],[-3.365,.76],[-3.358,.717],[-2.996,.717],[-2.927,.76],[-3.498,.68],[-3.48,.63],[-3.45,.63],[-3.424,.637],[-3.397,.58],[-3.3,.569],[-3.28,.569],[-2.92,.647],[-2.9,.647],[-3.035,.628],[-2.97,.605],[-2.79,.626],[-2.697,.62],[-2.626,.622],[-2.605,.569],[-3.468,.531],[-3.45,.39],[-3.41,.39],[-3.345,.43],[-3.358,.484],[-3.318,.495],[-3.262,.437],[-3.305,.382],[-3.204,.34],[-3.365,.272],[-3.378,.268],[-3.186,.225],[-3.16,.225],[-3.1,.198],[-2.948,.208],[-2.892,.25],[-2.745,.14],[-2.697,.077],[-2.626,.117],[-2.545,.177],[-2.637,.177],[-2.69,.205],[-2.724,.251],[-2.835,.25],[-2.804,.332],[-2.78,.272],[-2.699,-.02],[-3.04,.287],[-3.01,.335],[-2.93,.318],[-2.206,-.152],[-2.01,-.24],[-1.935,-.19],[-1.9,-.65],[-1.88,.71],[-1.3,.06],[-1.12,.09],[-1.15,.09],[-.88,.03],[-.81,.04],[-.72,.08],[-.68,.08],[-.83,.14],[-.92,.15],[-.9,.15],[-.86,.53],[-.58,.47],[-.73,.49],[-.95,.45],[-.55,.39],[-.97,.36],[-.92,.4],[-.9,.37],[-1.12,.34],[-1.08,.36],[-1.15,.3],[-1.16,.22],[-1.13,.26],[-1.2,.2],[-1.18,.19],[-1.27,.28],[-1.3,.36],[-1.4,.1],[-1.45,.13],[-1.5,.16],[-1.47,.15],[-1.42,.31],[-1.44,.37],[-1.48,.41],[-1.52,.4],[-1.55,.43],[-1.57,.55],[-1.53,.51],[-1.6,.3],[-1.57,.27],[-1.55,.24],[-1.62,.25],[-1.65,.18],[-1.68,.13],[-1.68,.11],[-1.68,.08],[-1.72,.17],[-1.76,.29],[-1.72,.31],[-1.7,.41],[-1.74,.44],[-1.79,.46],[-1.82,.39],[-1.85,.33],[-1.9,.31],[-1.95,.38],[-1.98,.33],[-1.98,.08],[-2.02,.1],[-2.06,.13],[-2.1,.17],[-2.12,.14],[-2.14,.19],[-2.08,.24],[-2.14,.32],[-2.18,.28],[-2.22,.33],[-2.2,.27],[-2.1,.42],[-2.16,.46],[-2.2,.52],[-2.13,.55],[-2.3,.19],[-2.33,.25],[-2.36,.2],[-2.34,.08],[-2.38,.34],[-2.35,.38],[-2.31,.47],[-2.4,.43],[-2.43,.41],[-2.45,.37],[-2.48,.41],[-2.4,.55],[-2.43,.58],[-2.47,.56],[-2.52,.53],
[-3.24,.46],[-3.22,.41],[-3.2,.52],[-3.18,.37],[-3.17,.46],[-3.15,.48],[-3.14,.43],[-3.12,.49],[-3.1,.45],[-3.09,.52],[-3.07,.47],[-3.06,.42],[-3.04,.5],[-3.03,.44],[-3.01,.47],[-3,.41],[-2.99,.52],[-2.98,.45],[-2.96,.49],[-2.95,.43],[-2.94,.54],[-2.92,.47],[-2.91,.41],[-2.9,.5],[-2.89,.45],[-2.87,.53],[-2.86,.47],[-2.85,.4],[-2.83,.49],[-2.82,.44],[-2.81,.52],[-2.79,.46],[-2.78,.39],[-2.76,.5],[-2.75,.44],[-2.74,.35],[-2.72,.48],[-2.71,.42],[-2.7,.37],[-2.68,.49],[-2.67,.43],[-2.66,.36],[-2.64,.47],[-2.63,.4],[-2.62,.34],[-2.6,.44],[-2.59,.37],[-2.58,.42],[-2.56,.33],[-2.55,.47],[-2.53,.4],[-2.51,.35],[-2.5,.44],[-2.48,.3],[-2.7,.29],[-2.66,.27],[-2.62,.27],[-2.6,.3],[-2.77,.32],[-2.82,.3],[-2.88,.37],[-2.91,.35],[-2.97,.36],[-3.02,.38],[-3.06,.37],[-3.12,.4],[-3.18,.52],[-3.25,.53],[-3.2,.6],[-3.15,.57],[-3.05,.56],[-2.96,.58],[-2.88,.57],[-2.82,.63],[-2.73,.57],[-2.68,.62],[-2.6,.55],[-3.32,.44],[-3.28,.4],[-3.25,.39],[-3.48,.33],[-3.49,.3],[-3.43,.28],[-3.47,.48],[-3.33,.57],[-3.34,.57],
[-.77,.24],[-.79,.25],[-.62,.28],[-.59,.26],[-.57,.26],[-.53,.19],[-.41,.03],[-.39,.06],[-.36,.23],[-.3,.18],[-.22,.15],[-.15,.08],[-.17,.17],[-.13,.17],[-.1,.13],[-.06,.14],[-.04,.12],[-.02,.11],[0,.1],[-.05,.06],[-.08,.04],[-.02,.05],[0,.03],[.02,.14],[.05,.16],[.08,.09],[.1,.06],[.06,.03],[.02,-.03],[.07,-.12],[.15,.09],[.13,.13],[-.15,-.01],[-.24,.02],
[-3.13,.47],[-3.11,.44],[-3.08,.49],[-3.05,.46],[-3.02,.49],[-2.97,.47],[-2.95,.51],[-2.93,.45],[-2.91,.48],[-2.88,.43],[-2.88,.48],[-2.86,.51],[-2.84,.45],[-2.83,.42],[-2.8,.48],[-2.77,.44],[-2.77,.49],[-2.73,.46],[-2.71,.51],[-2.69,.45],[-2.67,.47],[-2.65,.44],[-2.63,.46],[-2.61,.42],[-2.97,.42],[-2.93,.41],[-3.0,.45],[-3.1,.42],[-3.16,.44],[-2.58,.38],[-2.54,.36],[-2.49,.39],[-2.46,.33],[-2.42,.35],[-2.37,.43],[-2.33,.41],[-2.28,.4],[-2.25,.33],[-2.21,.36],[-2.15,.37],[-2.11,.31],[-2.05,.38],[-2.02,.36],[-1.97,.35],[-1.92,.36],[-1.88,.35],[-1.83,.35],[-1.78,.33],[-1.74,.37],[-1.66,.37],[-1.63,.29]];

function xy(xs, ys){ return xs.map((x,i)=>({x, y:ys[i]})); }
function pts(list){ return list.map(p=>({x:p[0], y:p[1]})); }
const signed = v => v===0 ? "0.0" : (v>0?"+":"\u2212")+Math.abs(v).toFixed(1);
const plainNeg = v => (v<0?"\u2212":"")+Math.abs(v).toFixed(1);

const NAVY="#000080", DOT="#6495ED", LIGHT="#98FB98", DARK="#228B22", BLUE="#1E90FF", ORANGE="#FF6347";

const dotsDs = (list, ord) => ({type:'scatter', data:pts(list), order:ord, backgroundColor:DOT, borderWidth:0, pointRadius:3.1});
const lineDs = (list, w, ord) => ({type:'line', data:pts(list), order:ord, borderColor:NAVY, borderWidth:w, pointRadius:0, tension:0, fill:false, borderJoinStyle:'round', borderCapStyle:'butt'});
const bandHi = (xs,ys,c,ord) => ({type:'line', data:xy(xs,ys), order:ord, backgroundColor:c, borderWidth:0, pointRadius:0, tension:0, fill:'+1'});
const bandLo = (xs,ys,ord) => ({type:'line', data:xy(xs,ys), order:ord, borderWidth:0, pointRadius:0, tension:0, fill:false});

const frame = {
  id:'frame',
  beforeDraw(c){ c.ctx.letterSpacing='2px'; },
  afterDraw(c){
    const o=c.options.plugins.frame, {ctx,chartArea:a,scales:{x,y}}=c;
    ctx.save();
    ctx.strokeStyle='#000';
    const tick=(v,axis,len)=>{
      ctx.beginPath();
      if(axis==='x'){const p=x.getPixelForValue(v);ctx.moveTo(p,a.top);ctx.lineTo(p,a.top+len);ctx.moveTo(p,a.bottom);ctx.lineTo(p,a.bottom-len);}
      else{const p=y.getPixelForValue(v);ctx.moveTo(a.left,p);ctx.lineTo(a.left+len,p);ctx.moveTo(a.right,p);ctx.lineTo(a.right-len,p);}
      ctx.stroke();
    };
    ctx.lineWidth=1.6;
    o.xMajor.forEach(v=>tick(v,'x',11));
    o.xMinor.forEach(v=>tick(v,'x',5.5));
    yTicks.forEach(v=>tick(v,'y',11));
    yMinor.forEach(v=>tick(v,'y',5.5));
    ctx.lineWidth=2.4;
    ctx.strokeRect(a.left,a.top,a.width,a.height);
    ctx.fillStyle='#111';
    ctx.letterSpacing='2px';
    ctx.textBaseline='alphabetic';
    // y title
    ctx.save();
    ctx.translate(29,(a.top+a.bottom)/2);
    ctx.rotate(-Math.PI/2);
    ctx.textAlign='center';
    ctx.font='25px "Liberation Serif"';
    ctx.fillText('[\u03B1/Fe]',0,0);
    ctx.restore();
    // x title
    const cx=(a.left+a.right)/2, by=a.bottom+(o.sub?54:62);
    ctx.textAlign='left';
    if(o.sub){
      ctx.letterSpacing='3px';
      ctx.font='25px "Liberation Serif"';
      const s1='log t', s3='/yr';
      const w1=ctx.measureText(s1).width, w3=ctx.measureText(s3).width;
      ctx.font='bold 14px "Liberation Serif"'; ctx.letterSpacing='0.5px'; const w2=ctx.measureText(o.sub).width;
      let px=cx-(w1+w2+w3)/2;
      ctx.letterSpacing='3px';
      ctx.font='25px "Liberation Serif"'; ctx.fillText(s1,px,by); px+=w1;
      ctx.font='bold 14px "Liberation Serif"'; ctx.letterSpacing='0.5px'; ctx.fillText(o.sub,px-2,by+5); px+=w2-1;
      ctx.letterSpacing='3px';
      ctx.font='25px "Liberation Serif"'; ctx.fillText(s3,px,by);
    } else {
      ctx.textAlign='center';
      ctx.font='25px "Liberation Serif"';
      ctx.fillText('[Fe/H]',cx,by);
    }
    ctx.restore();
    ctx.letterSpacing='0px';
  }
};

function panel(id, datasets, cfg){
  new Chart(document.getElementById(id), {
    type:'scatter',
    data:{datasets},
    plugins:[frame],
    options:{
      responsive:false, animation:false, events:[],
      layout:{padding:{top:cfg.title?0:48, left:0, right:16, bottom:0}},
      plugins:{
        legend:{display:false}, tooltip:{enabled:false},
        title:{display:!!cfg.title, text:cfg.title||'', color:'#111', font:{family:'"Liberation Serif"', size:34, weight:'normal', lineHeight:1.2}, padding:{top:1,bottom:6.2}, fullSize:false},
        frame:{xMajor:cfg.xMajor, xMinor:cfg.xMinor, sub:cfg.sub}
      },
      scales:{
        x:{type:'linear', min:cfg.xmin, max:cfg.xmax, grid:{display:false, drawTicks:false}, border:{display:false},
           afterBuildTicks(s){ s.ticks=cfg.xLabels.map(v=>({value:v})); },
           afterFit(s){ s.height=68; },
           ticks:{autoSkip:false, maxRotation:0, padding:10, color:'#111', font:{family:'"Liberation Sans"', size:22}, callback:plainNeg}},
        y:{type:'linear', min:-1.1, max:1.1, grid:{display:false, drawTicks:false}, border:{display:false},
           afterBuildTicks(s){ s.ticks=yTicks.map(v=>({value:v})); },
           afterFit(s){ s.width=107; },
           ticks:{autoSkip:false, padding:14, color:'#111', font:{family:'"Liberation Sans"', size:22}, callback:signed}}
      }
    }
  });
}

function topSet(core, hi, lo, dots, c){
  return [
    bandHi(c.x, c.hi, DOT, 20), bandLo(c.x, c.lo, 20),
    ...dots.map(d=>dotsDs(d, 15)),
    lineDs(hi[0], 1.4, 5), lineDs(lo[0], 1.4, 5),
    lineDs(hi[1], 3.2, 4), lineDs(lo[1], 3.2, 4),
    lineDs(core, 5.5, 3)
  ];
}
function botSet(bx, lh, ll, dh, dl){
  return [
    bandHi(bx, lh, LIGHT, 30), bandLo(bx, ll, 30),
    bandHi(bx, dh, DARK, 25), bandLo(bx, dl, 25),
    bandHi(blobX, blobHi, NAVY, 20), bandLo(blobX, blobLo, 20),
    {type:'scatter', data:pts(blueStars), order:15, backgroundColor:BLUE, borderColor:NAVY, borderWidth:2, pointRadius:3.8},
    {type:'line', data:xy(zeroX, zeroY), order:10, borderColor:'#000', borderWidth:4, borderDash:[16.5,11.8], pointRadius:0, fill:false},
    {type:'scatter', data:pts(orangeStars), order:5, backgroundColor:'rgba(0,0,0,0)', borderColor:ORANGE, borderWidth:1.6, pointRadius:3.2}
  ];
}
const topCfg = t => ({title:t, xmin:8.5, xmax:10.2, xLabels:topXTicks, xMajor:topXTicks, xMinor:topXMinor, sub:'form'});
const botCfg = {xmin:-3.5, xmax:.2, xLabels:botXTicks, xMajor:botXTicks, xMinor:botXMid};

panel('tl', topSet(tlMed,[tlHi2,tlHi1],[tlLo2,tlLo1],[tlDots,tlDotsLow,tlDotsFill,tlDotsEdge],{x:tlCoreX,hi:tlCoreHi,lo:tlCoreLo}), topCfg(titles[0]));
panel('tr', topSet(trMed,[trHi2,trHi1],[trLo2,trLo1],[trDots,trDotsEdge],{x:trCoreX,hi:trCoreHi,lo:trCoreLo}), topCfg(titles[1]));
panel('bl', botSet(blBandX,blLightHi,blLightLo,blDarkHi,blDarkLo), botCfg);
panel('br', botSet(brBandX,brLightHi,brLightLo,brDarkHi,brDarkLo), botCfg);
</script></body></html>
